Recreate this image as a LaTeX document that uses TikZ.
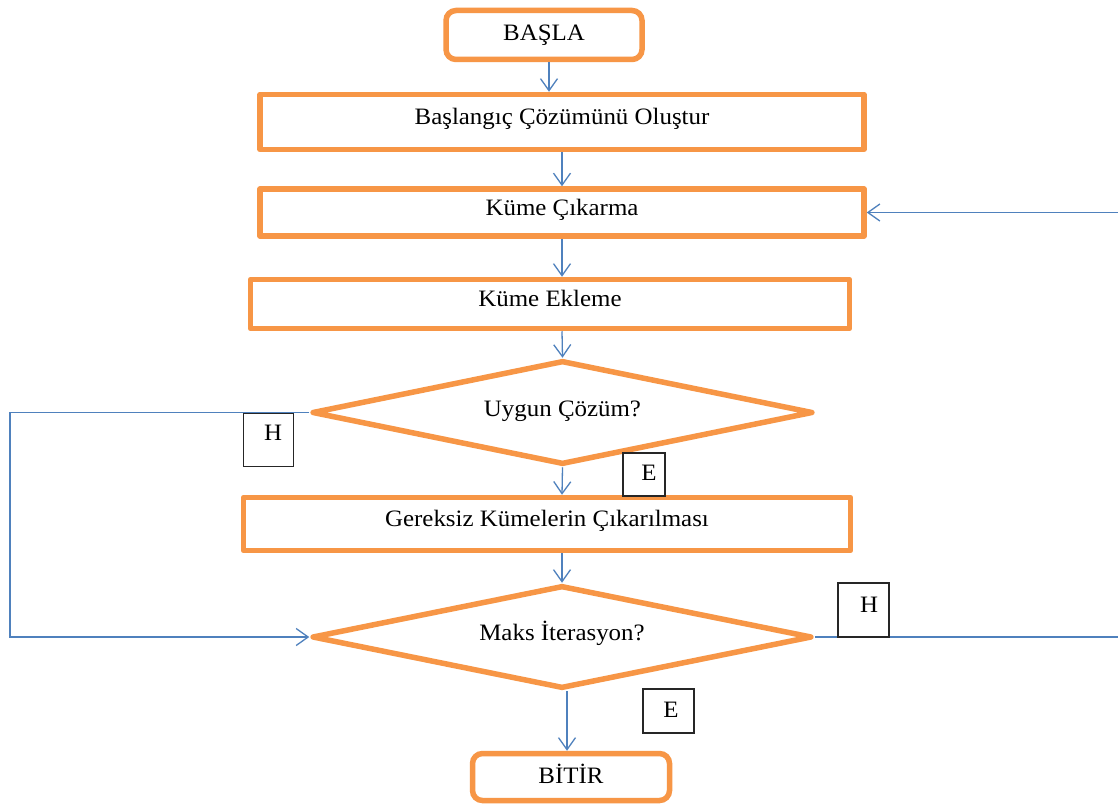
\documentclass[tikz,border=0pt]{standalone}
\usepackage{fontspec}
\setmainfont{Liberation Serif}[FakeStretch=1.06]
\usetikzlibrary{arrows.meta,shapes.geometric}
\definecolor{boxorange}{HTML}{F79646}
\definecolor{linkblue}{HTML}{4F81BD}
\begin{document}
\begin{tikzpicture}[x=1pt,y=-1pt,
  font=\fontsize{23.5}{28}\selectfont,
  stepbox/.style={draw=boxorange, line width=5.5pt, line join=round, inner sep=0pt,
                  text height=16pt, text depth=11pt},
  terminal/.style={draw=boxorange, line width=5.5pt, rounded corners=10pt, inner sep=0pt,
                   text height=16pt, text depth=4pt},
  decision/.style={draw=boxorange, line width=5.5pt, line join=round, diamond, aspect=5,
                   inner sep=0pt, text height=16pt, text depth=9pt},
  arr/.style={draw=linkblue, line width=1.3pt, -{Straight Barb[length=12pt,width=17pt]}},
  lbl/.style={draw=black!85, line width=1.5pt, fill=white, inner sep=0pt, text height=16pt},
]
\path[use as bounding box, fill=white] (0,0) rectangle (1118,808);
\clip (0,0) rectangle (1118,808);

% main flow nodes
\node[terminal, minimum width=196pt, minimum height=49pt] (start) at (544,35) {BAŞLA};
\node[stepbox, minimum width=604pt, minimum height=55pt] (init) at (562,122) {Başlangıç Çözümünü Oluştur};
\node[stepbox, minimum width=604pt, minimum height=47pt] (sub) at (562,212.5) {Küme Çıkarma};
\node[stepbox, minimum width=599pt, minimum height=49pt] (add) at (550,304) {Küme Ekleme};
\node[decision, minimum width=501pt, minimum height=104pt] (d1) at (562.5,412.5) {Uygun Çözüm?};
\node[stepbox, minimum width=607pt, minimum height=53pt] (rem) at (547,524) {Gereksiz Kümelerin Çıkarılması};
\node[decision, minimum width=500pt, minimum height=103pt] (d2) at (562,637) {Maks İterasyon?};
\node[terminal, minimum width=197pt, minimum height=47pt] (stop) at (571,777) {BİTİR};

% loop corner points
\coordinate (lft) at (10,520);
\coordinate (rgt) at (1126,420);

% connectors
\draw[arr] ([xshift=5pt]start.south) -- ([xshift=-13pt]init.north);
\draw[arr] (init.south) -- (sub.north);
\draw[arr] (sub.south) -- ([xshift=12pt]add.north);
\draw[arr] ([xshift=12pt]add.south) -- (d1.north);
\draw[arr] (d1.south) -- ([xshift=15pt]rem.north);
\draw[arr] ([xshift=15pt]rem.south) -- (d2.north);
\draw[arr] ([xshift=5pt]d2.south) -- ([xshift=-4pt]stop.north);
\draw[arr] (d1.west) -| (lft) |- (d2.west);
\draw[arr] (d2.east) -| (rgt) |- (sub.east);

% branch labels
\node[lbl, minimum width=50pt, minimum height=53pt, text depth=14.5pt] (h1) at (268.5,440) {\hspace*{9pt}H};
\node[lbl, minimum width=42pt, minimum height=43pt, text depth=3.5pt] (e1) at (644,474.5) {\hspace*{10pt}E};
\node[lbl, minimum width=51pt, minimum height=54pt, text depth=10.5pt] (h2) at (863.5,610) {\hspace*{11pt}H};
\node[lbl, minimum width=51pt, minimum height=44pt, text depth=2.5pt] (e2) at (668.5,711) {\hspace*{5pt}E};
\end{tikzpicture}
\end{document}
